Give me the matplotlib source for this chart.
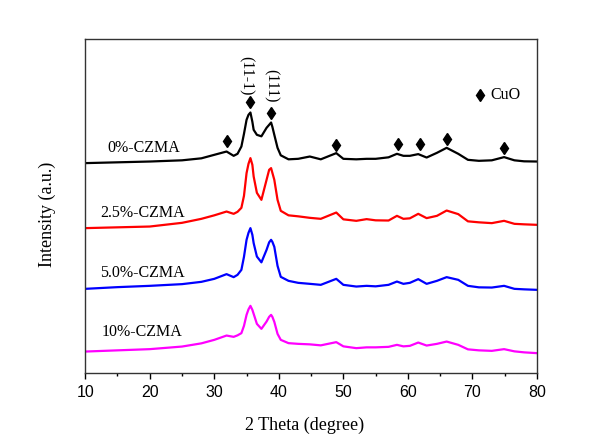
import matplotlib
matplotlib.use("Agg")
import matplotlib.pyplot as plt
from matplotlib.ticker import MultipleLocator

# 2-theta sampling positions
theta = [10, 15, 20, 25, 28, 30, 31.9, 33, 33.6, 34.2, 34.6, 35.0, 35.3, 35.6, 35.9,
         36.1, 36.6, 37.3, 38.1, 38.5, 38.8, 39.0, 39.3, 39.8, 40.3, 41.5, 43, 44.8,
         46.5, 48.9, 50, 52, 53.6, 55, 57, 58.3, 59.3, 60.3, 61.6, 62.9, 64.5, 66.0,
         67.8, 69.3, 71, 73, 74.9, 76.5, 78, 80]

# intensities (a.u., already offset per sample)
int_0 = [209.7, 210.5, 211.3, 212.5, 214.5, 218, 221.3, 217, 219, 226.3, 239, 253, 258,
         260.3, 251, 243, 238, 236.5, 245, 248, 250.3, 246, 238, 225, 217.5, 213.5, 214,
         216.3, 213.5, 219.7, 214, 213.5, 214, 214, 215.5, 219, 217, 217, 218.7, 215.3,
         220, 225, 219, 213, 212, 212.5, 215.7, 212.5, 211.5, 211.3]
int_25 = [144.7, 145.5, 146.3, 150, 154, 157.5, 161.3, 159, 161, 165, 177, 199.7, 209,
          214.7, 208, 196.3, 180, 173, 193, 203, 204.7, 200, 193, 173, 162, 157.5, 156.5,
          155, 154, 160.3, 153.5, 152, 153.7, 152.5, 152.3, 157, 154, 154.5, 159, 154.7,
          157, 162.3, 158.7, 151.5, 150.5, 149.7, 152, 149, 148.5, 148]
int_50 = [84, 85.7, 87, 88.7, 91, 94, 98.7, 95.7, 98, 103, 116, 133, 140, 144.7, 138,
          129.7, 116.3, 110.5, 123, 130.5, 133, 131, 126, 107, 96, 92, 90, 89, 88, 94, 88,
          86.3, 87, 86.5, 88, 91.3, 89, 90, 93.7, 89, 92, 95.7, 93, 87, 85.5, 85.3, 87,
          84, 83.5, 83]
int_10 = [21.3, 22.5, 23.7, 26.3, 29.5, 33, 37.3, 36, 37.5, 39.7, 47, 58, 63.5, 67, 63,
          59, 49, 44, 51.3, 56, 58, 56, 51, 39, 33, 29.7, 29, 28.5, 27.5, 30.7, 26.5,
          24.7, 25.5, 25.5, 26, 28, 26.5, 27, 30.3, 27.3, 29, 31.3, 28, 23.5, 22.5, 22,
          23.7, 21.5, 20.5, 19.7]

series = [int_0, int_25, int_50, int_10]
labels = ["0%-CZMA", "2.5%-CZMA", "5.0%-CZMA", "10%-CZMA"]
colors = ["black", "#ff0000", "#0000ff", "#ff00ff"]
label_pos = [(13.4, 225), (12.3, 160.3), (12.3, 99.7), (12.5, 41.3)]

# CuO reflections marked on the 0% pattern
cuo_theta = [31.9, 35.6, 38.8, 48.9, 58.4, 61.8, 66.0, 74.9]
cuo_y = [232, 270.7, 259.7, 227.7, 229, 229, 233.7, 225.3]

serif = "Liberation Serif"
sans = "Liberation Sans"

fig = plt.figure(figsize=(6.0, 4.46), dpi=100)
ax = fig.add_axes([0.142, 0.164, 0.753, 0.749])

for y, c in zip(series, colors):
    ax.plot(theta, y, color=c, linewidth=1.6)

for (tx, ty), lab in zip(label_pos, labels):
    ax.text(tx, ty, lab, fontsize=11.5, family=serif, ha="left", va="center")

ax.plot(cuo_theta, cuo_y, linestyle="none", marker="d", markersize=6, mew=1,
        color="black")
ax.plot([71.2], [278], linestyle="none", marker="d", markersize=6, mew=1,
        color="black")
ax.text(72.7, 278, "CuO", fontsize=11.5, family=serif, ha="left", va="center")

ax.text(34.9, 297.5, "(11-1)", fontsize=11.5, family=serif, rotation=-90,
        ha="center", va="center")
ax.text(38.76, 287, "(111)", fontsize=11.5, family=serif, rotation=-90,
        ha="center", va="center")

ax.set_xlim(10, 80)
ax.set_ylim(0, 334)
ax.xaxis.set_major_locator(MultipleLocator(10))
ax.xaxis.set_minor_locator(MultipleLocator(5))
ax.tick_params(axis="x", which="major", direction="out", length=4, width=1,
               labelsize=11.5, pad=5)
ax.tick_params(axis="x", which="minor", direction="out", length=2.5, width=1)
for lab in ax.get_xticklabels():
    lab.set_family(sans)
ax.set_yticks([])

for sp in ax.spines.values():
    sp.set_color("#333333")
    sp.set_linewidth(1.0)

ax.set_xlabel("2 Theta (degree)", fontsize=13, family=serif)
ax.set_ylabel("Intensity (a.u.)", fontsize=13, family=serif)
ax.xaxis.set_label_coords(0.486, -0.132)
ax.yaxis.set_label_coords(-0.064, 0.473)

fig.savefig("out.png", dpi=100)
